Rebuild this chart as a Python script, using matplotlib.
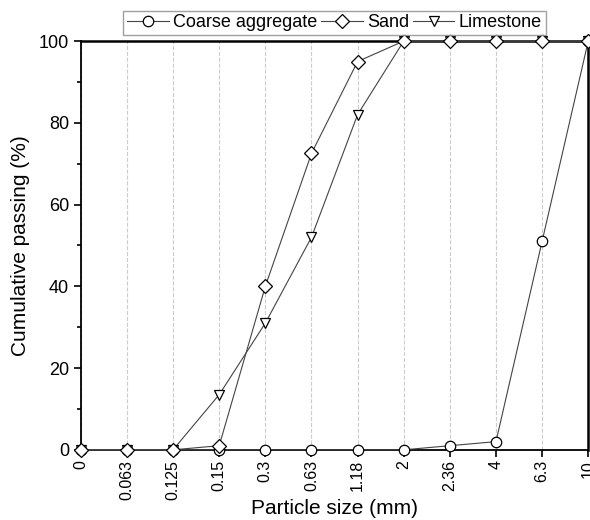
import matplotlib.pyplot as plt
from matplotlib.ticker import MultipleLocator

plt.rcParams['font.family'] = ['Liberation Sans', 'DejaVu Sans']

sizes = ['0', '0.063', '0.125', '0.15', '0.3', '0.63', '1.18', '2', '2.36', '4', '6.3', '10']
coarse = [0, 0, 0, 0, 0, 0, 0, 0, 1, 2, 51, 100]
sand = [0, 0, 0, 1, 40, 72.5, 95, 100, 100, 100, 100, 100]
limestone = [0, 0, 0, 13.5, 31, 52, 82, 100, 100, 100, 100, 100]

x = list(range(len(sizes)))

fig = plt.figure(figsize=(5.9, 5.2), dpi=100)
ax = fig.add_axes([0.137, 0.135, 0.860, 0.786])

style = dict(color='#444444', lw=0.8, markerfacecolor='white',
             markeredgecolor='black', markeredgewidth=0.9, markersize=7.5,
             clip_on=False)
ax.plot(x, coarse, marker='o', label='Coarse aggregate', zorder=3, **style)
ax.plot(x, limestone, marker='v', label='Limestone', zorder=4, **style)
ax.plot(x, sand, marker='D', label='Sand', zorder=5,
        **{**style, 'markersize': 7})

ax.set_xlim(0, len(sizes) - 1)
ax.set_ylim(0, 100)
ax.set_xticks(x)
ax.set_xticklabels(sizes, rotation=90, fontsize=11.5)
ax.yaxis.set_major_locator(MultipleLocator(20))
ax.yaxis.set_minor_locator(MultipleLocator(10))
ax.tick_params(axis='y', labelsize=13, direction='out', length=5, width=1.2)
ax.tick_params(axis='y', which='minor', length=3, width=1.2)
ax.tick_params(axis='x', direction='out', length=5, width=1.2, pad=2.5)

ax.grid(axis='x', linestyle='--', color='#cccccc', lw=0.8)
ax.set_axisbelow(True)

for side in ['left', 'bottom']:
    ax.spines[side].set_linewidth(1.3)
for side in ['top', 'right']:
    ax.spines[side].set_linewidth(1.8)

ax.set_xlabel('Particle size (mm)', fontsize=15, labelpad=-1)
ax.set_ylabel('Cumulative passing (%)', fontsize=15, labelpad=6)

h, l = ax.get_legend_handles_labels()
order = [0, 2, 1]
leg = ax.legend([h[i] for i in order], [l[i] for i in order],
                loc='lower center', bbox_to_anchor=(0.50, 1.0), ncol=3,
                fontsize=13, frameon=True, fancybox=False, handlelength=2.3,
                handletextpad=0.25, columnspacing=0.2, borderpad=0.2,
                borderaxespad=0.35)
leg.get_frame().set_edgecolor('#888888')
leg.get_frame().set_linewidth(1.0)

fig.savefig('out.png', dpi=100)
